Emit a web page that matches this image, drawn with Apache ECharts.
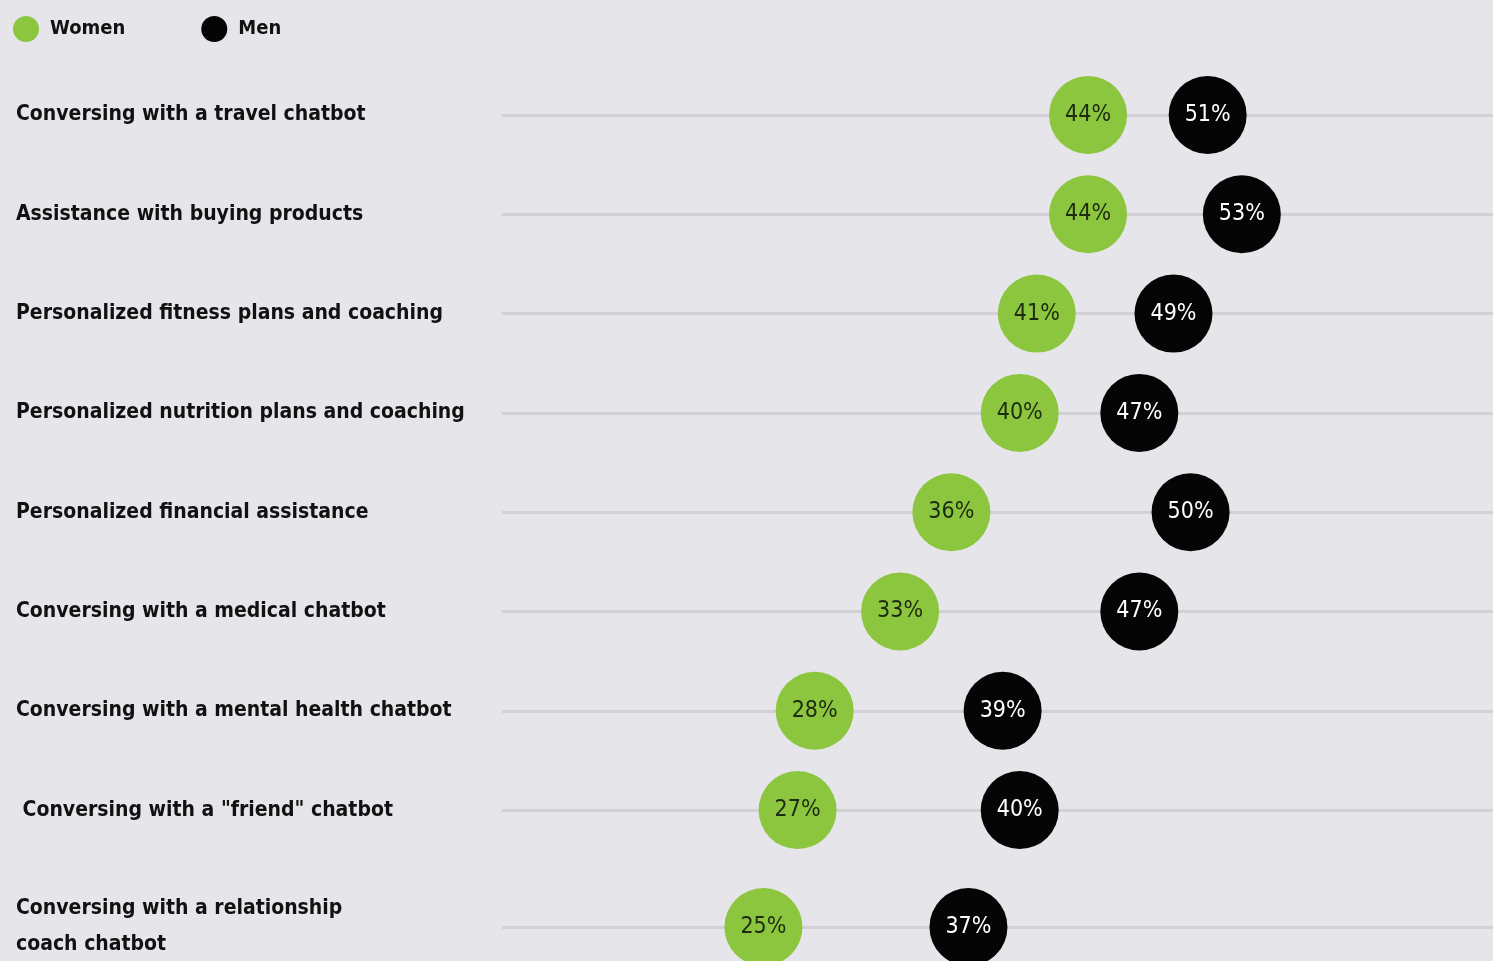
<!DOCTYPE html>
<html>
<head>
<meta charset="utf-8">
<script src="https://cdn.jsdelivr.net/npm/echarts@6/dist/echarts.min.js"></script>
<style>
  html, body { margin: 0; padding: 0; background: #e6e5ea; }
  #chart { width: 1493px; height: 961px; }
</style>
</head>
<body>
<div id="chart"></div>
<script>
// Share of respondents interested in each AI use, by gender (%)
const categories = [
  "Conversing with a travel chatbot",
  "Assistance with buying products",
  "Personalized fitness plans and coaching",
  "Personalized nutrition plans and coaching",
  "Personalized financial assistance",
  "Conversing with a medical chatbot",
  "Conversing with a mental health chatbot",
  " Conversing with a \"friend\" chatbot",
  "Conversing with a relationship\ncoach chatbot"
];
const women = [44, 44, 41, 40, 36, 33, 28, 27, 25];
const men = [51, 53, 49, 47, 50, 47, 39, 40, 37];

const GREEN = '#8cc63f';
const BLACK = '#050505';
const FONT = '"Liberation Sans Narrow", "DejaVu Sans Condensed", Arial, sans-serif';

// First eight rows sit in one grid, the two-line last row in its own grid below
const splitAt = 8;
const groups = [
  { cats: categories.slice(0, splitAt), w: women.slice(0, splitAt), m: men.slice(0, splitAt) },
  { cats: categories.slice(splitAt), w: women.slice(splitAt), m: men.slice(splitAt) }
];

const grids = [
  { left: 502, right: 0, top: 65.4, height: 794.3, outerBoundsMode: 'none' },
  { left: 502, right: 0, top: 897, height: 60, outerBoundsMode: 'none' }
];

const xAxes = groups.map((g, i) => ({
  type: 'value', gridIndex: i, min: 9.7, max: 67.7, show: false
}));

const yAxes = groups.map((g, i) => ({
  type: 'category', gridIndex: i, data: g.cats, inverse: true,
  axisLine: { show: false }, axisTick: { show: false }, splitLine: { show: false },
  axisLabel: {
    align: 'left', margin: 486,
    fontFamily: FONT, fontWeight: 'bold', fontSize: 21,
    color: '#111', lineHeight: 36
  }
}));

function dotSeries(name, data, i, color, textColor) {
  return {
    name: name, type: 'scatter', xAxisIndex: i, yAxisIndex: i,
    data: data.map((v, k) => [v, groups[i].cats[k]]),
    symbol: 'circle', symbolSize: 78, z: 5,
    itemStyle: { color: color, opacity: 1 },
    label: {
      show: true, position: 'inside',
      formatter: p => p.value[0] + '%',
      fontFamily: FONT, fontSize: 23, color: textColor
    },
    emphasis: { disabled: true }
  };
}

const series = [];
groups.forEach((g, i) => {
  // horizontal guide line for each row
  series.push({
    type: 'line', xAxisIndex: i, yAxisIndex: i, data: [], z: 1, silent: true,
    markLine: {
      silent: true, symbol: 'none', animation: false,
      label: { show: false },
      lineStyle: { color: '#d1d0d5', width: 3, type: 'solid' },
      data: g.cats.map(c => ({ yAxis: c }))
    }
  });
  series.push(dotSeries('Women', g.w, i, GREEN, '#1d2b10'));
  series.push(dotSeries('Men', g.m, i, BLACK, '#ffffff'));
});

const chart = echarts.init(document.getElementById('chart'));
chart.setOption({
  backgroundColor: '#e6e5ea',
  animation: false,
  legend: {
    data: ['Women', 'Men'],
    left: 8, top: 11, itemWidth: 26, itemHeight: 26, itemGap: 76,
    icon: 'circle',
    textStyle: { fontFamily: FONT, fontWeight: 'bold', fontSize: 20, color: '#111', padding: [0, 0, 0, 6] },
    selectedMode: false
  },
  grid: grids,
  xAxis: xAxes,
  yAxis: yAxes,
  series: series
});
</script>
</body>
</html>
